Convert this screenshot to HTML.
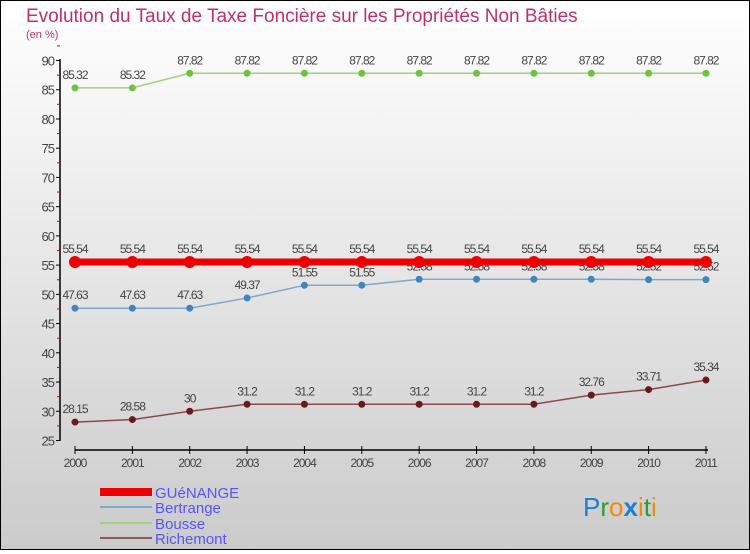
<!DOCTYPE html>
<html><head><meta charset="utf-8"><style>
html,body{margin:0;padding:0}
body{width:750px;height:550px;overflow:hidden;font-family:"Liberation Sans",sans-serif}
#wrap{position:absolute;left:0;top:0;width:748px;height:548px;border:1px solid #000;background:linear-gradient(#fff,#f0f0f0 30%,#cbcbcb)}
</style></head><body>
<div id="wrap">
<svg id="svg" width="748" height="548" xmlns="http://www.w3.org/2000/svg">
<text x="25" y="21" font-size="19" fill="#c0306a">Evolution du Taux de Taxe Foncière sur les Propriétés Non Bâties</text>
<text x="25" y="37" font-size="11" fill="#c0306a">(en %)</text>
<g id="axes"></g><g id="series"></g>
<g>
<rect x="99" y="487" width="52" height="8" fill="#e00"/>
<text x="154" y="497" font-size="15" fill="#5555ff">GUéNANGE</text>
<line x1="99" y1="506" x2="151" y2="506" stroke="#7fa8d0" stroke-width="2"/>
<text x="154" y="512" font-size="15" fill="#5555ff">Bertrange</text>
<line x1="99" y1="522" x2="151" y2="522" stroke="#9fd47f" stroke-width="2"/>
<text x="154" y="528" font-size="15" fill="#5555ff">Bousse</text>
<line x1="99" y1="537" x2="151" y2="537" stroke="#8a5a5a" stroke-width="2"/>
<text x="154" y="543" font-size="15" fill="#5555ff">Richemont</text>
</g>
<g font-size="26">
<text x="582" y="515"><tspan fill="#1e7fd0">P</tspan><tspan fill="#2aa02a">r</tspan><tspan fill="#f08a10">o</tspan><tspan fill="#1e7fd0" font-weight="bold">x</tspan><tspan fill="#f08a10">i</tspan><tspan fill="#2aa02a">t</tspan><tspan fill="#f08a10">i</tspan></text>
</g>
</svg></div>
<script>
const years=["2000","2001","2002","2003","2004","2005","2006","2007","2008","2009","2010","2011"];
const guenange=[55.54,55.54,55.54,55.54,55.54,55.54,55.54,55.54,55.54,55.54,55.54,55.54];
const bertrange=[47.63,47.63,47.63,49.37,51.55,51.55,52.58,52.58,52.58,52.58,52.52,52.52];
const bousse=[85.32,85.32,87.82,87.82,87.82,87.82,87.82,87.82,87.82,87.82,87.82,87.82];
const richemont=[28.15,28.58,30,31.2,31.2,31.2,31.2,31.2,31.2,32.76,33.71,35.34];
const yTicks=[25,30,35,40,45,50,55,60,65,70,75,80,85,90];
const NS="http://www.w3.org/2000/svg";
const x=i=>74+i*57.36;
const y=v=>439.5-(v-25)*5.846;
function mk(t,a,p){const e=document.createElementNS(NS,t);for(const k in a)e.setAttribute(k,a[k]);p.appendChild(e);return e;}
const ax=document.getElementById('axes'),se=document.getElementById('series');
let l=mk('line',{x1:59,y1:58,x2:59,y2:440,stroke:'#000','stroke-width':1.5},ax);


yTicks.forEach(v=>{
 mk('line',{x1:55,y1:y(v),x2:59,y2:y(v),stroke:'#000'},ax);
 mk('line',{x1:56,y1:y(v+2.5),x2:59,y2:y(v+2.5),stroke:'#d00'},ax);
 const t=mk('text',{x:53,y:y(v)+5,'font-size':13,fill:'#444','text-anchor':'end','letter-spacing':'-1'},ax);
 t.textContent=v;
 
 
});
l=mk('line',{x1:74,y1:449,x2:707,y2:449,stroke:'#000','stroke-width':1.5},ax);


years.forEach((yr,i)=>{
 mk('line',{x1:x(i),y1:445,x2:x(i),y2:453,stroke:'#000'},ax);
 const t=mk('text',{x:x(i),y:466,'font-size':12,fill:'#444','text-anchor':'middle','letter-spacing':'-1'},ax);
 t.textContent=yr;
 
 
});
function series(vals,name,col,dot,w,r){
 const g=mk('g',{},se);
 
 
 const p=mk('polyline',{points:vals.map((v,i)=>x(i)+','+y(v)).join(' '),fill:'none',stroke:col,'stroke-width':w},g);
 
 
 vals.forEach((v,i)=>{
  const c=mk('circle',{cx:x(i),cy:y(v),r:r,fill:dot},g);
  
  
  const t=mk('text',{x:x(i),y:y(v)-9,'font-size':12,fill:'#444','text-anchor':'middle','letter-spacing':'-1'},g);
  t.textContent=String(v);
  
  
 });
}
series(bousse,'bousse','#9fd47f','#6cc43c',1.5,3.5);
series(bertrange,'bertrange','#7fa8d0','#3f86c0',1.5,3.5);
series(richemont,'richemont','#8a4a4a','#6a1a1a',1.5,3.5);
series(guenange,'guenange','#ee0000','#ee0000',7,6);
</script>
</body></html>
